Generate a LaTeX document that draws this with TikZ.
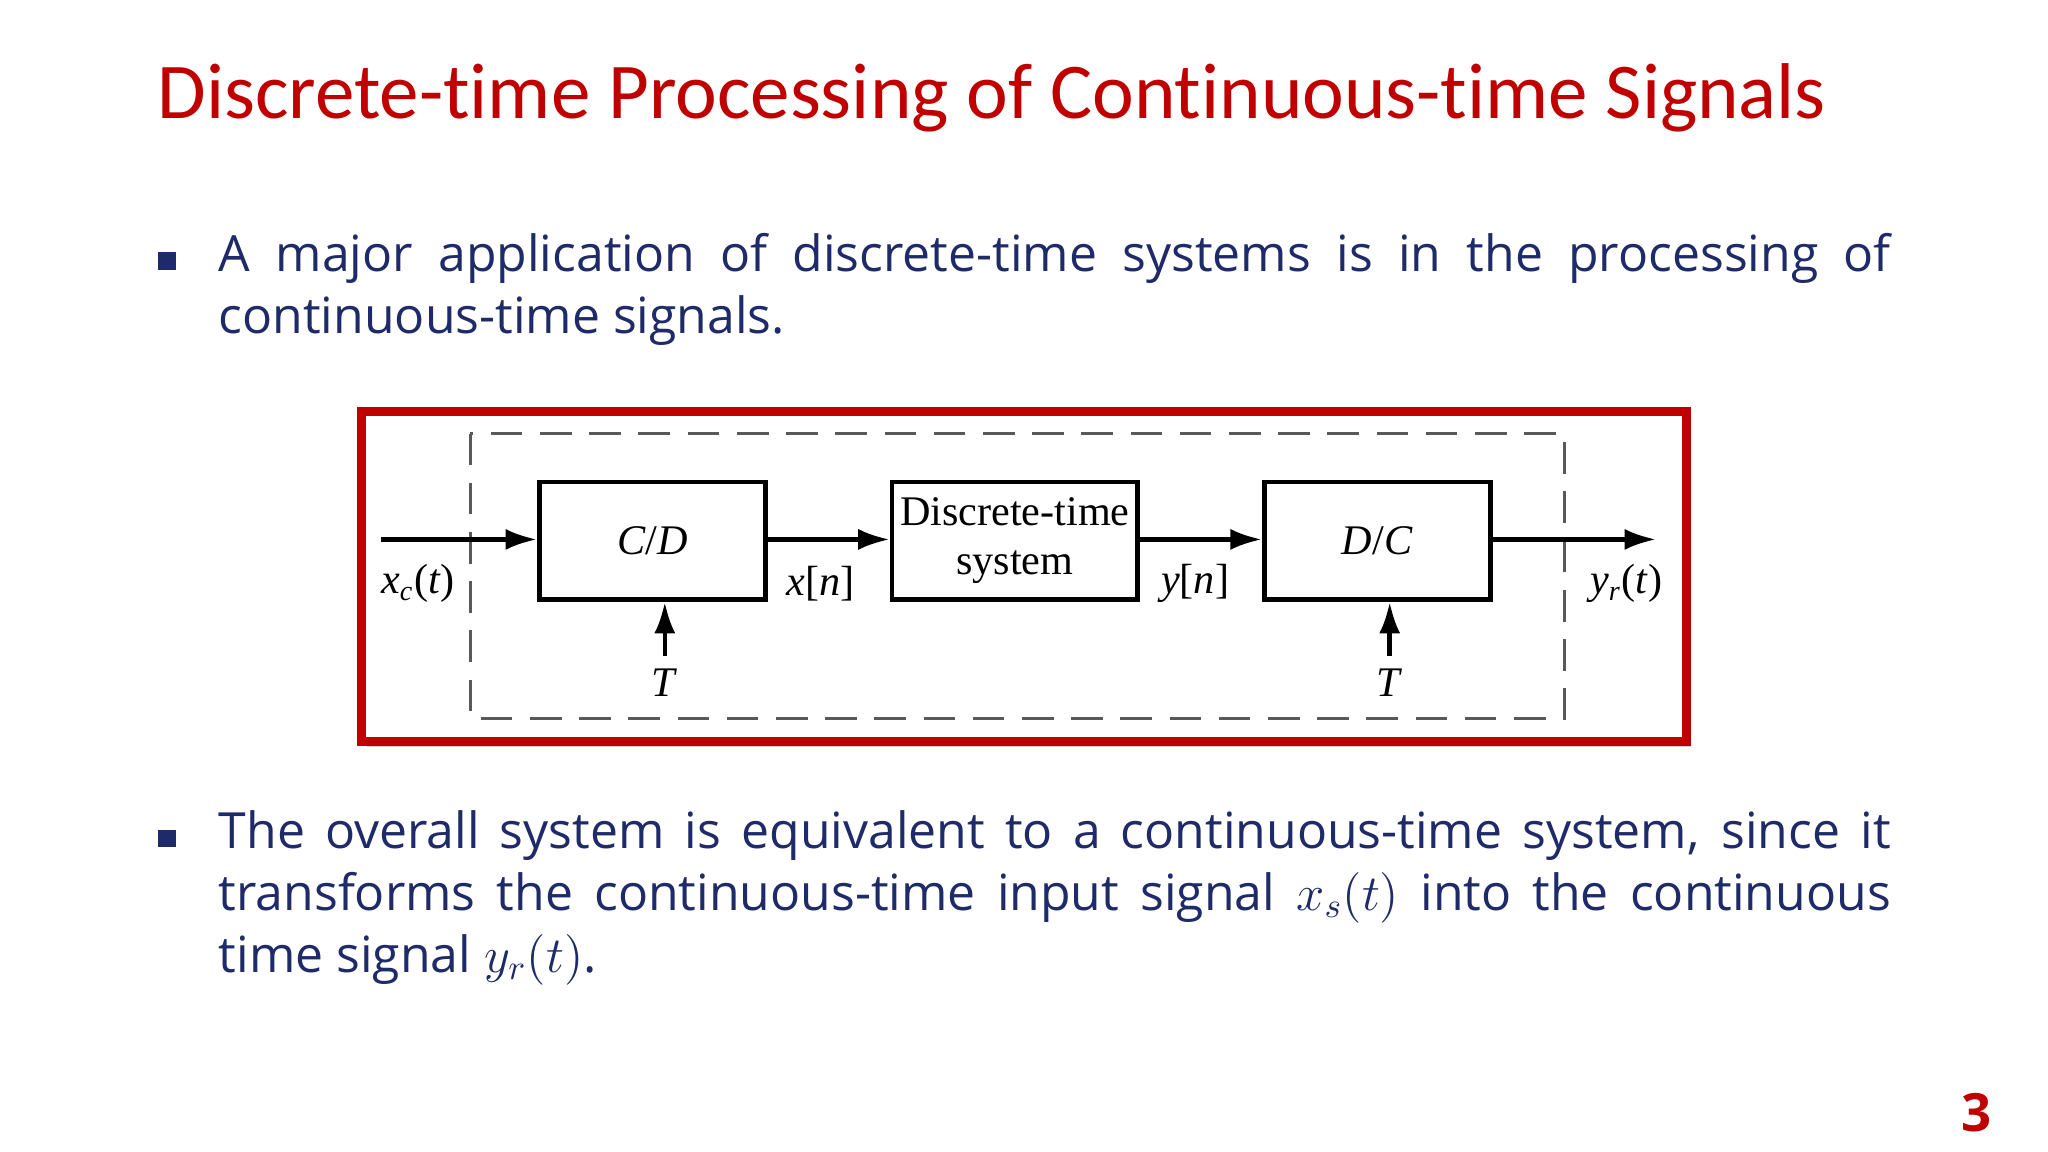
\documentclass[tikz,border=0pt]{standalone}
\usepackage{fontspec}
\usepackage{amsmath}
\setmainfont{Open Sans}
\newfontfamily\titlefont[Ligatures={NoCommon,NoDiscretionary,NoRare}]{Carlito}
\newfontfamily\diafont{Liberation Serif}
\usetikzlibrary{arrows.meta}
\definecolor{tred}{HTML}{C00000}
\definecolor{navy}{HTML}{1F2A68}
\begin{document}
\begin{tikzpicture}[x=0.013061cm,y=-0.013061cm,
  blk/.style={draw,line width=1.3pt,inner sep=0pt},
  sig/.style={line width=1.3pt,-{Latex[length=9pt,width=6pt]}},
  lab/.style={font=\diafont\fontsize{12}{13}\selectfont},
  bodytext/.style={text=navy,font=\fontsize{14.2}{17.6}\selectfont,text width=16.72cm,align=justify,inner sep=0pt,anchor=north west},
  bul/.style={fill=navy,minimum size=5pt,inner sep=0pt}]
\useasboundingbox (0,0) rectangle (1568,882);
\fill[white] (0,0) rectangle (1568,882);
\node[anchor=west,text=tred,font=\titlefont\fontsize{22.5}{27}\selectfont,inner sep=0pt] (title) at (120,75) {Discrete-time Processing of Continuous-time Signals};
\node[bul] (b1) at (128,200) {};
\node[bodytext] (t1) at (167,178) {A major application of discrete-time systems is in the processing of continuous-time signals.};
\node[bul] (b2) at (128,642) {};
\node[bodytext] (t2) at (167,620) {The overall system is equivalent to a continuous-time system, since it transforms the continuous-time input signal $x_s(t)$ into the continuous time signal $y_r(t)$.};
% diagram
\fill[gray!35] (281,319) rectangle (1295,572);
\draw[tred,line width=2.5pt,fill=white] (277,315) rectangle (1291,568);
\draw[dashed,line width=0.8pt,dash pattern=on 9pt off 5pt,gray!70!black] (360,332) rectangle (1198,550);
\node[blk,minimum width=173*0.013061cm,minimum height=90*0.013061cm,lab] (cd) at (499.5,414) {\textit{C}/\textit{D}};
\node[blk,minimum width=188*0.013061cm,minimum height=90*0.013061cm,align=center,font=\diafont\fontsize{12}{14}\selectfont] (dt) at (777,414) {Discrete-time\\system};
\node[blk,minimum width=173*0.013061cm,minimum height=90*0.013061cm,lab] (dc) at (1054.5,414) {\textit{D}/\textit{C}};
\coordinate (in) at (292,413);
\coordinate (out) at (1268,413);
\coordinate (t1s) at (509,502);
\coordinate (t2s) at (1064,502);
\draw[sig] (in) -- (cd.west|-in);
\draw[sig] (cd.east|-in) -- (dt.west|-in);
\draw[sig] (dt.east|-in) -- (dc.west|-in);
\draw[sig] (dc.east|-in) -- (out);
\draw[sig] (t1s) -- (cd.south-|t1s);
\draw[sig] (t2s) -- (dc.south-|t2s);
\node[lab] (lt1) at (509,523) {\textit{T}};
\node[lab] (lt2) at (1064,523) {\textit{T}};
\node[lab] (lxc) at (320,447) {\textit{x}\textsubscript{\textit{c}}(\textit{t})};
\node[lab] (lxn) at (628,447) {\textit{x}[\textit{n}]};
\node[lab] (lyn) at (915,447) {\textit{y}[\textit{n}]};
\node[lab] (lyr) at (1245,447) {\textit{y}\textsubscript{\textit{r}}(\textit{t})};
\node[text=tred,font=\bfseries\fontsize{15}{18}\selectfont] (pg) at (1513,852) {3};
\end{tikzpicture}
\end{document}
